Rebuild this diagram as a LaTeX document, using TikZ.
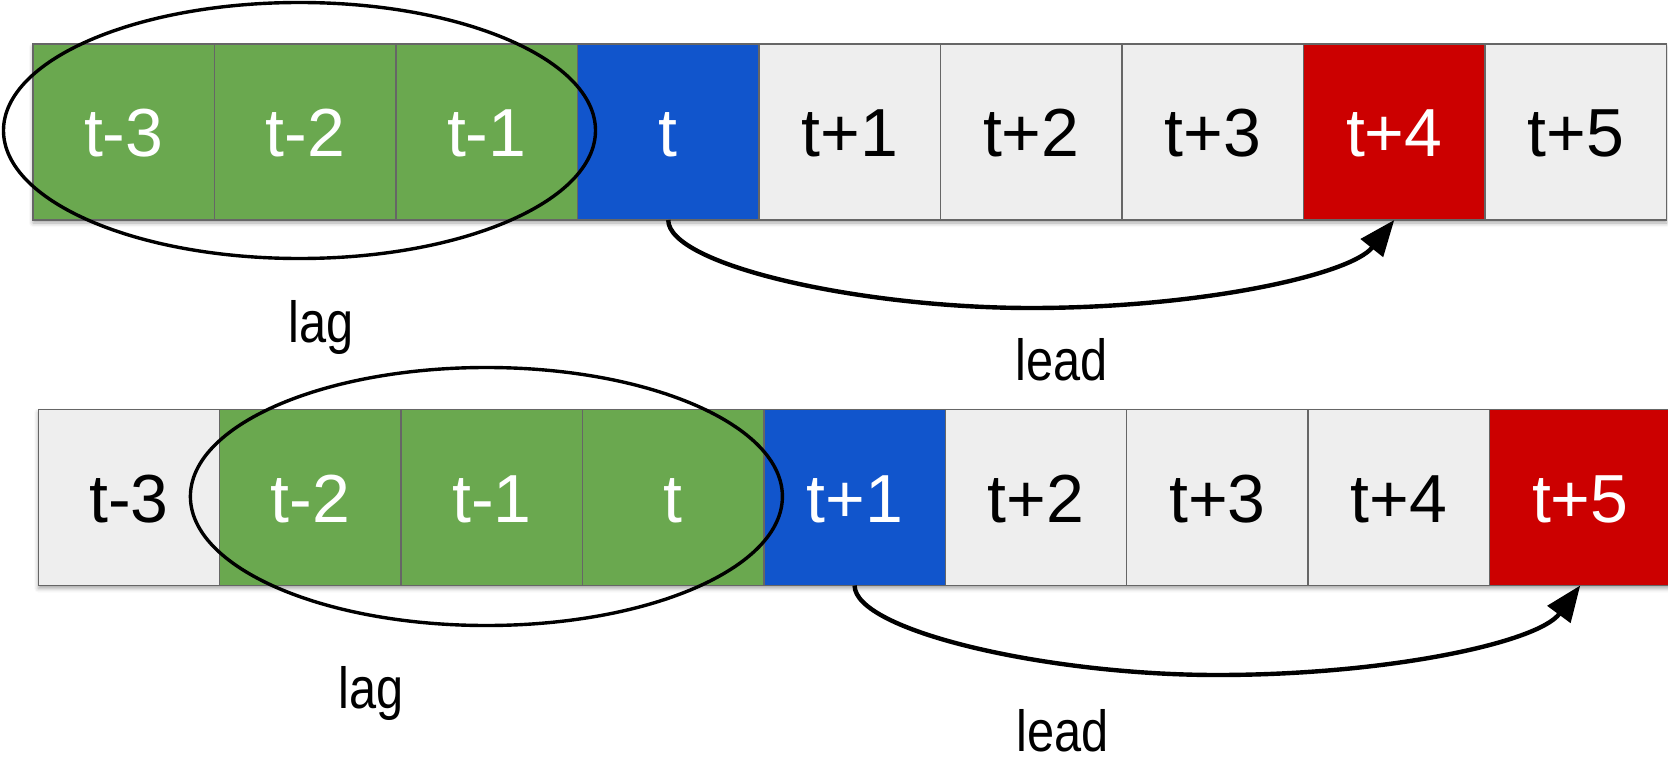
\documentclass[tikz,border=0pt]{standalone}
\usepackage{fontspec}
\setmainfont{Liberation Sans}
\newfontfamily\condfont[FakeStretch=0.84]{Liberation Sans}
\usetikzlibrary{arrows.meta,shadows.blur,backgrounds}

\definecolor{lagGreen}{HTML}{6AA84F}
\definecolor{nowBlue}{HTML}{1155CC}
\definecolor{leadRed}{HTML}{CC0000}
\definecolor{restGray}{HTML}{EEEEEE}
\definecolor{cellEdge}{HTML}{666666}

\tikzset{
  cellbase/.style={draw=cellEdge, line width=1.5pt,
    minimum width=181.5pt, minimum height=176pt,
    inner sep=0pt, outer sep=0pt,
    text height=49pt, text depth=0pt,
    font=\fontsize{68}{68}\selectfont},
  plaincell/.style={cellbase, fill=restGray, text=black},
  lagcell/.style={cellbase, fill=lagGreen, text=white},
  nowcell/.style={cellbase, fill=nowBlue, text=white},
  leadcell/.style={cellbase, fill=leadRed, text=white},
  rowshadow/.style={blur shadow={shadow xshift=0pt, shadow yshift=-3pt,
    shadow blur radius=4pt, shadow opacity=35}},
  lagring/.style={draw=black, line width=3.4pt},
  leadarrow/.style={draw=black, line width=4.4pt,
    -{Triangle[length=36pt,width=28pt]}},
  caption/.style={anchor=base, inner sep=0pt,
    font=\condfont\fontsize{58}{58}\selectfont}
}

\begin{document}
\begin{tikzpicture}[x=1pt,y=-1pt]
\useasboundingbox (0,0) rectangle (1668,757);

% upper sequence: window t-3 .. t-1, current t, target t+4
\foreach \i/\lab/\sty in {0/t-3/lagcell,1/t-2/lagcell,2/t-1/lagcell,
    3/t/nowcell,4/t+1/plaincell,5/t+2/plaincell,6/t+3/plaincell,
    7/t+4/leadcell,8/t+5/plaincell}
  \node[\sty] (a\i) at ({33+181.5*(\i+0.5)},132) {\lab};

% lower sequence: window t-2 .. t, current t+1, target t+5
\foreach \i/\lab/\sty in {0/t-3/plaincell,1/t-2/lagcell,2/t-1/lagcell,
    3/t/lagcell,4/t+1/nowcell,5/t+2/plaincell,6/t+3/plaincell,
    7/t+4/plaincell,8/t+5/leadcell}
  \node[\sty] (b\i) at ({38.3+181.4*(\i+0.5)},497.5) {\lab};

% soft shadows under both rows
\begin{scope}[on background layer]
  \path[rowshadow, fill=white] (a0.north west) rectangle (a8.south east);
  \path[rowshadow, fill=white] (b0.north west) rectangle (b8.south east);
\end{scope}

% lag windows
\draw[lagring] (299.5,130.5) ellipse [x radius=296pt, y radius=128pt];
\draw[lagring] (486.4,496.5) ellipse [x radius=296pt, y radius=129pt];

% lead arrows
\coordinate (amid) at (1031,308);
\coordinate (bmid) at (1217,675);
\draw[leadarrow] (a3.south) .. controls +(0,45) and +(-171,0) .. (amid)
  .. controls +(169,0) and +(-44,55) .. (a7.south);
\draw[leadarrow] (b4.south) .. controls +(0,45) and +(-171,0) .. (bmid)
  .. controls +(171,0) and +(-42,57) .. (b8.south);

% captions
\node[caption] (lagA) at (321.5,342) {lag};
\node[caption] (leadA) at (1062,380) {lead};
\node[caption] (lagB) at (371,708) {lag};
\node[caption] (leadB) at (1063,751) {lead};
\end{tikzpicture}
\end{document}
